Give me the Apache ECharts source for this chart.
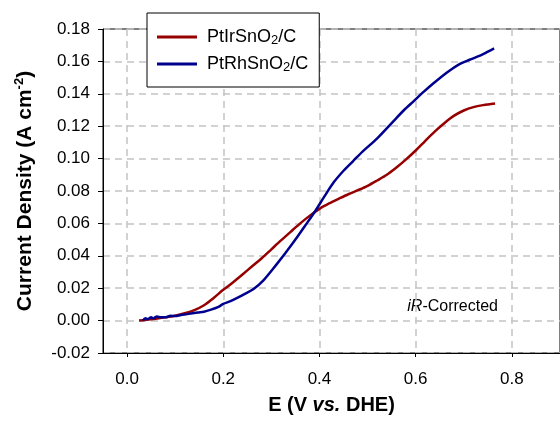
<!DOCTYPE html>
<html>
<head>
<meta charset="utf-8">
<script src="https://cdn.jsdelivr.net/npm/echarts@6/dist/echarts.min.js"></script>
<style>
html, body { margin: 0; padding: 0; background: #fff; }
#chart { width: 560px; height: 422px; }
</style>
</head>
<body>
<div id="chart"></div>
<script>
// E (V vs. DHE) / current density (A cm-2)
var ir_x = [0.025, 0.04, 0.06, 0.08, 0.10, 0.12, 0.14, 0.16, 0.18, 0.20, 0.22, 0.24, 0.26, 0.28, 0.30,
	0.32, 0.34, 0.36, 0.38, 0.40, 0.42, 0.44, 0.46, 0.48, 0.50, 0.52, 0.54, 0.56, 0.58, 0.60,
	0.62, 0.64, 0.66, 0.68, 0.70, 0.72, 0.74, 0.765];
var ir_y = [0.000, 0.0005, 0.0012, 0.002, 0.003, 0.0045, 0.0065, 0.0095, 0.014, 0.019, 0.0235, 0.0285, 0.0335, 0.0385, 0.044,
	0.0495, 0.0548, 0.060, 0.0648, 0.069, 0.0723, 0.0752, 0.078, 0.0805, 0.0832, 0.0865, 0.090, 0.0945, 0.0995, 0.105,
	0.111, 0.1168, 0.122, 0.1265, 0.1297, 0.1318, 0.133, 0.134];
var rh_x = [0.033, 0.038, 0.043, 0.05, 0.055, 0.062, 0.07, 0.08, 0.09, 0.10, 0.112, 0.125, 0.147, 0.16, 0.173,
	0.19, 0.20, 0.215, 0.229, 0.245, 0.263, 0.284, 0.31, 0.33, 0.35, 0.37, 0.392, 0.41, 0.43, 0.45,
	0.47, 0.49, 0.52, 0.555, 0.575, 0.596, 0.617, 0.637, 0.665, 0.692, 0.712, 0.735, 0.75, 0.763];
var rh_y = [0.000, 0.0015, 0.001, 0.002, 0.0015, 0.0025, 0.002, 0.002, 0.003, 0.0028, 0.0035, 0.004, 0.005, 0.0055, 0.0066,
	0.0085, 0.0103, 0.012, 0.014, 0.0165, 0.0195, 0.025, 0.0344, 0.042, 0.050, 0.0585, 0.068, 0.0765, 0.0855, 0.0925,
	0.0985, 0.1045, 0.1125, 0.1235, 0.1297, 0.1355, 0.1413, 0.1465, 0.1532, 0.1585, 0.161, 0.1637, 0.166, 0.168];
var x_ticks = [0.0, 0.2, 0.4, 0.6, 0.8];
var series_names = ["PtIrSnO2/C", "PtRhSnO2/C"];
var legend_labels = ["{f|PtIrSnO}{s|2}{t|/C}", "{f|PtRhSnO}{s|2}{t|/C}"];

function pairs(xs, ys){
	var out = [];
	for(var i = 0; i < xs.length; i++){
		out.push([xs[i], ys[i]]);
	}
	return out;
}

var chart = echarts.init(document.getElementById("chart"), null, {renderer: "canvas"});
var font = "'Liberation Sans', Arial, Helvetica, sans-serif";
var grid_line = {
	show: true,
	lineStyle: { color: "#c4c4c4", width: 1.5, type: [7, 5] }
};
var option = {
	backgroundColor: "#fff",
	animation: false,
	textStyle: { fontFamily: font },
	grid: {
		left: 103, top: 29, bottom: 69, right: -8,
		show: true, borderColor: "#000", borderWidth: 1
	},
	legend: {
		orient: "vertical",
		left: 147,
		top: 13,
		padding: [15, 11, 13, 10],
		itemGap: 8,
		itemWidth: 40,
		itemHeight: 3,
		icon: "rect",
		backgroundColor: "#fff",
		borderColor: "#000",
		borderWidth: 1,
		borderRadius: 0,
		data: series_names,
		formatter: function(name){
			return legend_labels[series_names.indexOf(name)];
		},
		textStyle: {
			color: "#000",
			rich: {
				f: { fontSize: 18, fontFamily: font, color: "#000", lineHeight: 20, padding: [0, 0, 0, 5] },
				t: { fontSize: 18, fontFamily: font, color: "#000", lineHeight: 20 },
				s: { fontSize: 13, fontFamily: font, color: "#000", verticalAlign: "bottom", lineHeight: 13 }
			}
		}
	},
	xAxis: {
		type: "value",
		min: -0.05,
		max: 0.9,
		name: "{b|E (V }{bi|vs.}{b| DHE)}",
		nameLocation: "middle",
		nameGap: 42,
		nameTextStyle: {
			rich: {
				b: { fontSize: 20, fontWeight: "bold", fontFamily: font, color: "#000" },
				bi: { fontSize: 20, fontWeight: "bold", fontStyle: "italic", fontFamily: font, color: "#000" }
			}
		},
		axisLine: { show: true, onZero: false, lineStyle: { color: "#000", width: 1 } },
		axisTick: { show: true, inside: false, length: 4, customValues: x_ticks, lineStyle: { color: "#000" } },
		axisLabel: {
			customValues: x_ticks,
			fontSize: 17,
			color: "#000",
			margin: 18,
			formatter: function(v){ return v.toFixed(1); }
		},
		splitLine: grid_line
	},
	yAxis: {
		type: "value",
		min: -0.02,
		max: 0.18,
		interval: 0.02,
		name: "{b|Current Density (A cm}{sup|-2}{b|)}",
		nameLocation: "middle",
		nameGap: 66,
		nameTextStyle: {
			rich: {
				b: { fontSize: 21, fontWeight: "bold", fontFamily: font, color: "#000", lineHeight: 24 },
				sup: { fontSize: 13, fontWeight: "bold", fontFamily: font, color: "#000", verticalAlign: "top", lineHeight: 13 }
			}
		},
		axisLine: { show: true, onZero: false, lineStyle: { color: "#000", width: 1 } },
		axisTick: { show: true, inside: false, length: 5, lineStyle: { color: "#000" } },
		axisLabel: {
			fontSize: 17,
			color: "#000",
			margin: 13,
			formatter: function(v){ return v.toFixed(2); }
		},
		splitLine: grid_line
	},
	graphic: [{
		type: "text",
		right: 62,
		top: 299,
		style: {
			text: "{i|iR}{n|-Corrected}",
			rich: {
				i: { fontSize: 16, fontStyle: "italic", fontFamily: font, fill: "#000" },
				n: { fontSize: 16, fontFamily: font, fill: "#000" }
			}
		}
	}],
	series: [
		{
			name: series_names[0],
			type: "line",
			symbol: "none",
			smooth: 0.3,
			color: "#960000",
			lineStyle: { color: "#960000", width: 2.5 },
			data: pairs(ir_x, ir_y)
		},
		{
			name: series_names[1],
			type: "line",
			symbol: "none",
			smooth: 0.3,
			color: "#00008f",
			lineStyle: { color: "#00008f", width: 2.5 },
			data: pairs(rh_x, rh_y)
		}
	]
};
chart.setOption(option, true);
</script>
</body>
</html>
